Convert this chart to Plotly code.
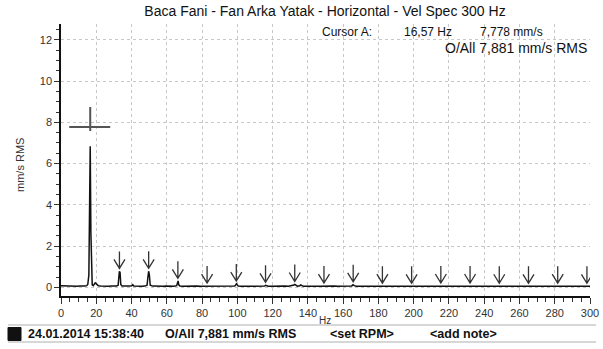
import numpy as np
import plotly.graph_objects as go

# ---- data ----
# (frequency Hz, amplitude mm/s RMS)
spectrum_points = [
    (0, 0.08), (1.5, 0.07), (3, 0.06), (4.5, 0.06), (6, 0.05), (7.5, 0.06), (9, 0.05),
    (10.5, 0.06), (12, 0.05), (13.5, 0.06), (14.6, 0.08), (15.2, 0.15), (15.8, 0.6),
    (16.2, 3.55), (16.57, 6.84), (16.95, 2.65), (17.3, 0.45), (17.7, 0.12), (18.3, 0.08),
    (18.9, 0.15), (19.4, 0.22), (19.9, 0.18), (20.5, 0.1), (21.2, 0.07), (22.5, 0.06),
    (24, 0.05), (25.5, 0.06), (27, 0.05), (28.5, 0.06), (30, 0.05), (31.5, 0.06),
    (32.4, 0.1), (32.8, 0.55), (33.1, 0.78), (33.5, 0.72), (33.9, 0.14), (34.6, 0.07),
    (36, 0.06), (37.5, 0.05), (39, 0.06), (40.2, 0.08), (40.7, 0.13), (41.3, 0.07),
    (43, 0.05), (44.5, 0.06), (46, 0.05), (47.5, 0.06), (48.8, 0.1), (49.3, 0.5),
    (49.7, 0.78), (50.1, 0.62), (50.6, 0.1), (52, 0.06), (53.5, 0.05), (55, 0.06),
    (56.5, 0.05), (58, 0.05), (59.5, 0.06), (61, 0.05), (62.5, 0.06), (64, 0.05),
    (65.6, 0.08), (66.0, 0.25), (66.4, 0.31), (66.8, 0.12), (67.4, 0.06), (69, 0.05),
    (71, 0.06), (73, 0.05), (75, 0.05), (77, 0.06), (79, 0.05), (81, 0.05), (83, 0.06),
    (85, 0.05), (87, 0.04), (89, 0.05), (91, 0.05), (93, 0.06), (95, 0.05), (97, 0.05),
    (98.6, 0.07), (99.1, 0.12), (99.5, 0.17), (99.9, 0.13), (100.5, 0.06), (102, 0.05),
    (104, 0.05), (106, 0.06), (108, 0.05), (110, 0.05), (112, 0.06), (114, 0.05),
    (115.5, 0.06), (116.0, 0.1), (116.5, 0.08), (117.5, 0.05), (119, 0.05), (121, 0.06),
    (123, 0.05), (125, 0.05), (127, 0.06), (129, 0.05), (131.3, 0.07), (132.1, 0.11),
    (132.6, 0.14), (133.1, 0.1), (134, 0.06), (135.4, 0.08), (136.0, 0.12), (136.6, 0.08),
    (137.5, 0.05), (139, 0.05), (141, 0.06), (143, 0.05), (145, 0.05), (147, 0.05),
    (149, 0.06), (151, 0.05), (153, 0.05), (155, 0.06), (157, 0.05), (159, 0.05),
    (161, 0.05), (163, 0.06), (164.9, 0.07), (165.6, 0.13), (166.3, 0.08), (167.5, 0.05),
    (169, 0.05), (171, 0.06), (173, 0.05), (175, 0.05), (177, 0.05), (179, 0.04),
    (181, 0.05), (183, 0.06), (185, 0.05), (187, 0.05), (189, 0.05), (191, 0.06),
    (193, 0.05), (195, 0.04), (197, 0.05), (199, 0.05), (201, 0.06), (203, 0.05),
    (205, 0.05), (207, 0.05), (209, 0.06), (211, 0.05), (213, 0.05), (215, 0.07),
    (217, 0.05), (219, 0.05), (221, 0.06), (223, 0.05), (225, 0.05), (227, 0.05),
    (229, 0.06), (231, 0.07), (233, 0.06), (235, 0.05), (237, 0.05), (239, 0.05),
    (241, 0.05), (243, 0.06), (245, 0.05), (247, 0.07), (249, 0.05), (251, 0.05),
    (253, 0.05), (255, 0.06), (257, 0.05), (259, 0.05), (261, 0.05), (263, 0.06),
    (265, 0.05), (267, 0.05), (269, 0.05), (271, 0.06), (273, 0.05), (275, 0.05),
    (277, 0.05), (279, 0.05), (281, 0.06), (283, 0.05), (285, 0.05), (287, 0.05),
    (289, 0.06), (291, 0.05), (293, 0.05), (295, 0.05), (297, 0.05), (299, 0.05),
    (300, 0.05),
]
freq_hz = [p[0] for p in spectrum_points]
amp_mm_s = [p[1] for p in spectrum_points]

harmonic_hz = [33.14, 49.71, 66.28, 82.85, 99.42, 115.99, 132.56, 149.13, 165.70, 182.27,
               198.84, 215.41, 231.98, 248.55, 265.12, 281.69, 298.26]

cursor_hz = 16.57
cursor_val = 7.778

x_ticks = list(range(0, 301, 20))
y_ticks = list(range(0, 13, 2))

title_text = "Baca Fani - Fan Arka Yatak - Horizontal - Vel Spec 300 Hz"
cursor_label = "Cursor A:"
cursor_freq_label = "16,57 Hz"
cursor_val_label = "7,778 mm/s"
overall_label = "O/All 7,881 mm/s RMS"
status_items = ["24.01.2014 15:38:40", "O/All 7,881 mm/s RMS", "<set RPM>", "<add note>"]

# ---- layout geometry (pixels) ----
W, H = 603, 349
L, R, T, B = 61, 590, 24, 296
pw, ph = R - L, B - T


def px(xp):
    return (xp - L) / pw


def py(yp):
    return (B - yp) / ph


FONT = "Liberation Sans, Arial, sans-serif"

fig = go.Figure()
fig.add_trace(go.Scatter(x=freq_hz, y=amp_mm_s, mode="lines",
                         line=dict(color="#111111", width=1.5), hoverinfo="skip",
                         showlegend=False))

shapes = []
# harmonic arrows
arrow_amp = np.interp(harmonic_hz, freq_hz, amp_mm_s)
for f, a in zip(harmonic_hz, arrow_amp):
    shapes.append(dict(type="path", xref="x", yref="y", xsizemode="pixel", ysizemode="pixel",
                       xanchor=f, yanchor=float(a),
                       path="M0,20 L0,3 M-5.5,12 L0,3 L5.5,12",
                       line=dict(color="#333333", width=1.3)))
# cursor crosshair
shapes.append(dict(type="path", xref="x", yref="y", xsizemode="pixel", ysizemode="pixel",
                   xanchor=cursor_hz, yanchor=cursor_val,
                   path="M-21,0 L20,0 M0,20 L0,-4",
                   line=dict(color="#555555", width=2)))
# status bar lines and box
for yl in (325, 342):
    shapes.append(dict(type="line", xref="paper", yref="paper",
                       x0=px(8), x1=px(596), y0=py(yl), y1=py(yl),
                       line=dict(color="#b0b0b0", width=1.2)))
shapes.append(dict(type="rect", xref="paper", yref="paper",
                   x0=px(8), x1=px(21), y0=py(327.5), y1=py(340.5),
                   fillcolor="#111111", line=dict(color="#111111", width=1)))

annotations = [
    dict(text=cursor_label, x=px(320), y=py(32), xanchor="left", yanchor="middle"),
    dict(text=cursor_freq_label, x=px(402), y=py(32), xanchor="left", yanchor="middle"),
    dict(text=cursor_val_label, x=px(478), y=py(32), xanchor="left", yanchor="middle"),
    dict(text=overall_label, x=px(589), y=py(48), xanchor="right", yanchor="middle",
         font=dict(size=14, family=FONT, color="#111111")),
    dict(text="mm/s RMS", x=px(20), y=py(165), textangle=-90, xanchor="center", yanchor="middle",
         font=dict(size=11, family=FONT, color="#333333")),
    dict(text="Hz", x=px(325), y=py(320), xanchor="center", yanchor="middle",
         font=dict(size=10, family=FONT, color="#333333")),
]
for txt, xl in zip(status_items, [26, 163, 328, 428]):
    annotations.append(dict(text="<b>" + txt.replace("<", "&lt;").replace(">", "&gt;") + "</b>",
                            x=px(xl), y=py(334), xanchor="left", yanchor="middle",
                            font=dict(size=12.5, family=FONT, color="#111111")))
for a in annotations:
    a.setdefault("xref", "paper")
    a.setdefault("yref", "paper")
    a.setdefault("showarrow", False)
    a.setdefault("font", dict(size=12, family=FONT, color="#111111"))

fig.update_layout(
    template="none",
    width=W, height=H, autosize=False,
    margin=dict(l=L, r=W - R, t=T, b=H - B, pad=0, autoexpand=False),
    paper_bgcolor="white", plot_bgcolor="white",
    title=dict(text=title_text, x=325 / W, xanchor="center", y=1 - 11 / H, yanchor="middle",
               font=dict(size=14, family=FONT, color="#111111")),
    shapes=shapes, annotations=annotations,
    showlegend=False,
    xaxis=dict(range=[0, 300], tickvals=x_ticks, ticktext=[str(v) for v in x_ticks],
               automargin=False,
               showgrid=True, gridcolor="#c8c8c8", griddash="dot", gridwidth=1,
               showline=True, linecolor="#111111", linewidth=1.5,
               ticks="outside", ticklen=6, tickcolor="#333333", tickwidth=1,
               minor=dict(dtick=5, tick0=0, ticks="outside", ticklen=4, tickcolor="#333333",
                          showgrid=False),
               zeroline=False, fixedrange=True,
               tickfont=dict(size=11, family=FONT, color="#333333")),
    yaxis=dict(range=[-0.42, 12.77], tickvals=y_ticks, ticktext=[str(v) for v in y_ticks],
               automargin=False,
               showgrid=True, gridcolor="#c8c8c8", griddash="dot", gridwidth=1,
               showline=True, linecolor="#111111", linewidth=1.5,
               ticks="outside", ticklen=5, tickcolor="#333333", tickwidth=1,
               minor=dict(dtick=0.5, tick0=0, ticks="outside", ticklen=3, tickcolor="#333333",
                          showgrid=False),
               zeroline=False, fixedrange=True,
               tickfont=dict(size=11, family=FONT, color="#333333")),
)

fig.write_html("out.html", config={"displayModeBar": False},
               post_script="document.body.style.margin='0';")
